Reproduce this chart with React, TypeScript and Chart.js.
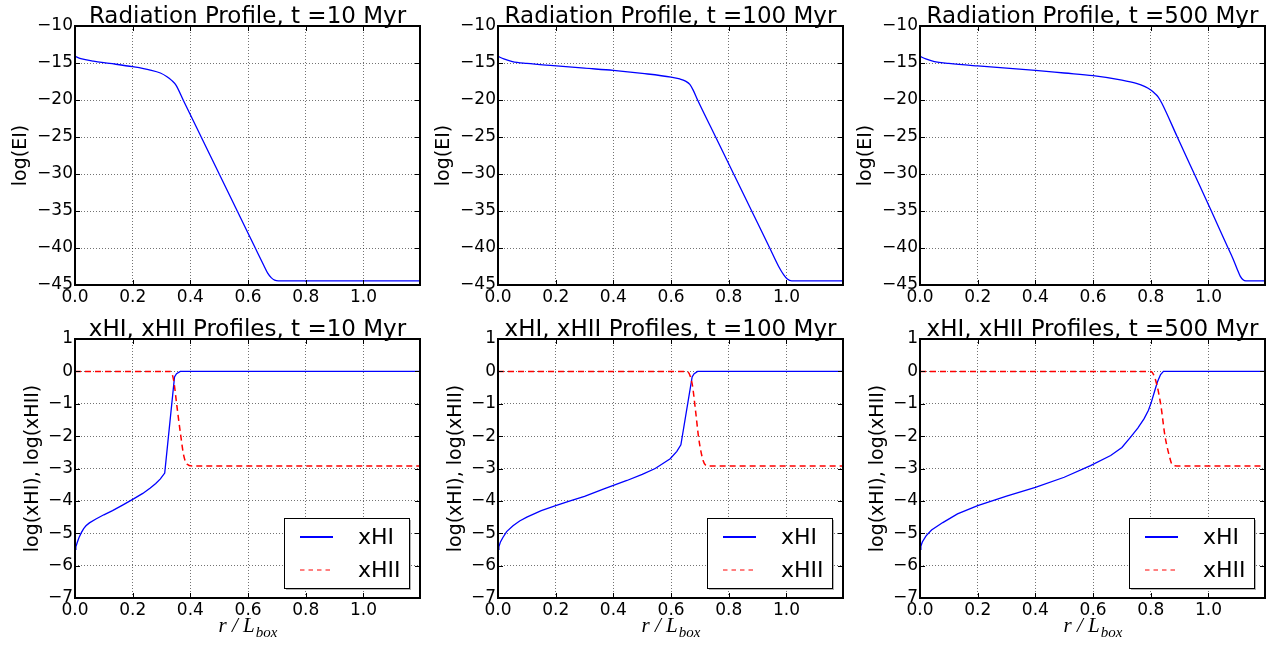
import React, { useEffect, useRef } from 'react';
import { Chart, registerables } from 'chart.js';

Chart.register(...registerables);

const FONT = "'DejaVu Sans', sans-serif";

// ---------- data ----------
const times = ['10', '100', '500'];
const xTickValues = [0, 0.2, 0.4, 0.6, 0.8, 1.0];
const xMax = 1.196;
const eiMin = -45;
const eiMax = -10;
const eiStep = 5;
const xhMin = -7;
const xhMax = 1;
const xhStep = 1;

// Radiation profiles log(EI)
const rEI10 = [0, 0.02, 0.064, 0.12, 0.2, 0.261, 0.296, 0.319, 0.335, 0.35, 0.375, 0.4375, 0.5, 0.5625, 0.625, 0.655, 0.668, 0.68, 0.692, 0.705, 1.196];
const ei10 = [-14.1, -14.4, -14.75, -15.05, -15.5, -15.95, -16.35, -16.85, -17.35, -18, -20, -25, -30, -35, -40, -42.4, -43.4, -44.0, -44.35, -44.45, -44.45];

const rEI100 = [0, 0.02, 0.05, 0.1, 0.192, 0.3, 0.4, 0.5, 0.6, 0.63, 0.65, 0.665, 0.677, 0.692, 0.7545, 0.817, 0.8795, 0.942, 0.973, 0.99, 1.003, 1.018, 1.196];
const ei100 = [-14.1, -14.45, -14.8, -15.05, -15.36, -15.7, -16.0, -16.4, -16.9, -17.15, -17.45, -17.9, -18.7, -20, -25, -30, -35, -40, -42.5, -43.6, -44.2, -44.45, -44.45];

const rEI500 = [0, 0.02, 0.05, 0.1, 0.2, 0.3, 0.4, 0.5, 0.6, 0.7, 0.75, 0.78, 0.8, 0.815, 0.826, 0.838, 0.892, 0.951, 1.01, 1.068, 1.085, 1.1, 1.11, 1.12, 1.13, 1.196];
const ei500 = [-14.1, -14.45, -14.8, -15.05, -15.4, -15.7, -16.0, -16.35, -16.7, -17.3, -17.75, -18.2, -18.65, -19.15, -19.6, -20.4, -25, -30, -35, -40, -41.45, -42.9, -43.8, -44.3, -44.45, -44.45];

// Ionisation profiles log(xHI), log(xHII)
const rHI10 = [0, 0.003, 0.008, 0.014, 0.022, 0.03, 0.038, 0.05, 0.0725, 0.1, 0.13, 0.165, 0.203, 0.235, 0.261, 0.28, 0.296, 0.311, 0.345, 0.352, 0.365, 1.196];
const xHI10 = [-5.5, -5.42, -5.28, -5.13, -4.98, -4.86, -4.77, -4.68, -4.56, -4.43, -4.3, -4.13, -3.94, -3.77, -3.6, -3.46, -3.32, -3.14, -0.17, -0.07, 0, 0];
const rHII10 = [0, 0.331, 0.342, 0.353, 0.365, 0.377, 0.388, 0.406, 1.196];
const xHII10 = [0, 0, -0.28, -1.05, -1.88, -2.6, -2.86, -2.92, -2.92];

const rHI100 = [0, 0.003, 0.008, 0.017, 0.03, 0.052, 0.075, 0.1, 0.15, 0.2, 0.25, 0.3, 0.365, 0.447, 0.5, 0.545, 0.597, 0.62, 0.634, 0.673, 0.68, 0.692, 1.196];
const xHI100 = [-5.5, -5.42, -5.28, -5.13, -4.95, -4.77, -4.62, -4.5, -4.3, -4.15, -4.0, -3.86, -3.64, -3.37, -3.18, -3.0, -2.7, -2.47, -2.27, -0.17, -0.07, 0, 0];
const rHII100 = [0, 0.655, 0.673, 0.684, 0.696, 0.711, 0.725, 1.196];
const xHII100 = [0, 0, -0.38, -1.15, -2.08, -2.75, -2.92, -2.92];

const rHI500 = [0, 0.003, 0.008, 0.021, 0.04, 0.079, 0.13, 0.2, 0.3, 0.4, 0.5, 0.591, 0.661, 0.7, 0.73, 0.755, 0.777, 0.792, 0.802, 0.813, 0.823, 0.834, 0.844, 1.196];
const xHI500 = [-5.5, -5.4, -5.27, -5.08, -4.9, -4.67, -4.4, -4.15, -3.85, -3.58, -3.27, -2.91, -2.6, -2.35, -2.03, -1.75, -1.46, -1.2, -0.95, -0.62, -0.33, -0.1, 0, 0];
const rHII500 = [0, 0.8, 0.817, 0.835, 0.849, 0.864, 0.875, 0.89, 1.196];
const xHII500 = [0, 0, -0.28, -1.05, -1.98, -2.6, -2.89, -2.92, -2.92];

const eiSeries = [
  { r: rEI10, v: ei10 },
  { r: rEI100, v: ei100 },
  { r: rEI500, v: ei500 },
];
const hiSeries = [
  { r: rHI10, v: xHI10 },
  { r: rHI100, v: xHI100 },
  { r: rHI500, v: xHI500 },
];
const hiiSeries = [
  { r: rHII10, v: xHII10 },
  { r: rHII100, v: xHII100 },
  { r: rHII500, v: xHII500 },
];

// ---------- layout ----------
const PLOT_W = 345;
const PLOT_LEFTS = [75, 498, 920];
const LEFT_RESERVE = 72;
const RIGHT_RESERVE = 8;
const ROWS = [
  { canvasTop: 0, canvasH: 320, plotTop: 26, plotBottom: 285 },
  { canvasTop: 312, canvasH: 336, plotTop: 339, plotBottom: 598 },
];

const BLUE = '#0000ff';
const RED = '#ff0000';

function fmtMinus(v: number): string {
  return v < 0 ? '\u2212' + String(Math.abs(v)) : String(v);
}

function toPoints(r: number[], v: number[]) {
  return r.map((x, i) => ({ x, y: v[i] }));
}

type PanelCfg = {
  row: number;
  col: number;
  title: string;
  yLabel: string;
  yLabelOffset: number;
  showXLabel: boolean;
  showLegend: boolean;
};

function makeDecor(cfg: PanelCfg) {
  return {
    id: 'decor' + cfg.row + cfg.col,
    afterDraw(chart: any) {
      const { ctx, chartArea: a, scales } = chart;
      ctx.save();
      // inward ticks
      ctx.strokeStyle = '#000';
      ctx.lineWidth = 1;
      ctx.setLineDash([]);
      ctx.beginPath();
      for (const t of scales.x.ticks) {
        const px = Math.round(scales.x.getPixelForValue(t.value)) + 0.5;
        ctx.moveTo(px, a.bottom);
        ctx.lineTo(px, a.bottom - 5);
        ctx.moveTo(px, a.top);
        ctx.lineTo(px, a.top + 5);
      }
      for (const t of scales.y.ticks) {
        const py = Math.round(scales.y.getPixelForValue(t.value)) + 0.5;
        ctx.moveTo(a.left, py);
        ctx.lineTo(a.left + 5, py);
        ctx.moveTo(a.right, py);
        ctx.lineTo(a.right - 5, py);
      }
      ctx.stroke();
      // frame
      ctx.lineWidth = 2;
      ctx.strokeRect(a.left, a.top, a.right - a.left, a.bottom - a.top);

      // title
      ctx.fillStyle = '#000';
      ctx.font = `23px ${FONT}`;
      ctx.textAlign = 'center';
      ctx.textBaseline = 'alphabetic';
      ctx.fillText(cfg.title, (a.left + a.right) / 2, a.top - 3);

      // y label
      ctx.save();
      ctx.translate(a.left - cfg.yLabelOffset, (a.top + a.bottom) / 2);
      ctx.rotate(-Math.PI / 2);
      ctx.font = `19px ${FONT}`;
      ctx.textAlign = 'center';
      ctx.textBaseline = 'middle';
      ctx.fillText(cfg.yLabel, 0, 0);
      ctx.restore();

      // x label  r/L_box
      if (cfg.showXLabel) {
        const mainFont = `italic 21px 'Liberation Serif', 'DejaVu Serif', serif`;
        const subFont = `italic 15px 'Liberation Serif', 'DejaVu Serif', serif`;
        ctx.font = mainFont;
        const mainTxt = 'r / L';
        const w1 = ctx.measureText(mainTxt).width;
        ctx.font = subFont;
        const w2 = ctx.measureText('box').width;
        const cx = (a.left + a.right) / 2;
        const x0 = cx - (w1 + w2) / 2;
        const baseY = a.bottom + 34;
        ctx.textAlign = 'left';
        ctx.textBaseline = 'alphabetic';
        ctx.font = mainFont;
        ctx.fillText(mainTxt, x0, baseY);
        ctx.font = subFont;
        ctx.fillText('box', x0 + w1 + 1, baseY + 5);
      }

      // legend
      if (cfg.showLegend) {
        const bw = 125;
        const bh = 70;
        const bx = a.right - 11 - bw;
        const by = a.bottom - 10 - bh;
        ctx.fillStyle = 'rgba(0,0,0,0.3)';
        ctx.fillRect(bx + 2, by + 2, bw, bh);
        ctx.fillStyle = '#fff';
        ctx.fillRect(bx, by, bw, bh);
        ctx.strokeStyle = '#000';
        ctx.lineWidth = 1;
        ctx.strokeRect(bx + 0.5, by + 0.5, bw, bh);

        const rows = [
          { label: 'xHI', color: BLUE, dash: [] as number[], width: 2, dy: 19 },
          { label: 'xHII', color: RED, dash: [4.5, 4], width: 1, dy: 52 },
        ];
        for (const r of rows) {
          ctx.strokeStyle = r.color;
          ctx.lineWidth = r.width;
          ctx.setLineDash(r.dash);
          ctx.beginPath();
          ctx.moveTo(bx + 16, by + r.dy);
          ctx.lineTo(bx + 49, by + r.dy);
          ctx.stroke();
          ctx.setLineDash([]);
          ctx.fillStyle = '#000';
          ctx.font = `22px ${FONT}`;
          ctx.textAlign = 'left';
          ctx.textBaseline = 'middle';
          ctx.fillText(r.label, bx + 74, by + r.dy + 1);
        }
      }
      ctx.restore();
    },
  };
}

function Panel({ cfg }: { cfg: PanelCfg }) {
  const ref = useRef<HTMLCanvasElement | null>(null);
  const rowL = ROWS[cfg.row];
  const left = PLOT_LEFTS[cfg.col] - LEFT_RESERVE;
  const width = LEFT_RESERVE + PLOT_W + RIGHT_RESERVE;
  const height = rowL.canvasH;
  const padTop = rowL.plotTop - rowL.canvasTop;
  const xAxisH = rowL.canvasTop + rowL.canvasH - rowL.plotBottom;

  useEffect(() => {
    if (!ref.current) return;
    const isEI = cfg.row === 0;
    const datasets: any[] = [];
    if (isEI) {
      const s = eiSeries[cfg.col];
      datasets.push({
        label: 'EI',
        data: toPoints(s.r, s.v),
        borderColor: BLUE,
        borderWidth: 1.3,
        pointRadius: 0,
        cubicInterpolationMode: 'monotone',
        fill: false,
      });
    } else {
      const hii = hiiSeries[cfg.col];
      const hi = hiSeries[cfg.col];
      datasets.push({
        label: 'xHII',
        data: toPoints(hii.r, hii.v),
        borderColor: RED,
        borderWidth: 1.5,
        borderDash: [6, 4],
        pointRadius: 0,
        cubicInterpolationMode: 'monotone',
        fill: false,
      });
      datasets.push({
        label: 'xHI',
        data: toPoints(hi.r, hi.v),
        borderColor: BLUE,
        borderWidth: 1.3,
        pointRadius: 0,
        tension: 0,
        fill: false,
      });
    }
    const yMin = isEI ? eiMin : xhMin;
    const yMax = isEI ? eiMax : xhMax;
    const yStep = isEI ? eiStep : xhStep;

    const gridCommon = {
      color: 'rgba(0,0,0,0.55)',
      lineWidth: 1,
      drawTicks: false,
    };
    const chart = new Chart(ref.current, {
      type: 'line',
      data: { datasets },
      options: {
        animation: false,
        responsive: false,
        maintainAspectRatio: false,
        devicePixelRatio: 1,
        layout: { padding: { top: padTop, right: RIGHT_RESERVE, left: 0, bottom: 0 } },
        plugins: {
          legend: { display: false },
          title: { display: false },
          tooltip: { enabled: false },
        },
        scales: {
          x: {
            type: 'linear',
            min: 0,
            max: xMax,
            afterBuildTicks: (s: any) => {
              s.ticks = xTickValues.map((v) => ({ value: v }));
            },
            afterFit: (s: any) => {
              s.height = xAxisH;
            },
            grid: gridCommon,
            border: { display: false, dash: [1, 2] },
            ticks: {
              color: '#000',
              font: { family: FONT, size: 17 },
              padding: 2,
              maxRotation: 0,
              autoSkip: false,
              callback: (v: any) => Number(v).toFixed(1),
            },
          },
          y: {
            type: 'linear',
            min: yMin,
            max: yMax,
            ticks: {
              stepSize: yStep,
              color: '#000',
              font: { family: FONT, size: 17 },
              padding: 2,
              autoSkip: false,
              callback: (v: any) => fmtMinus(Number(v)),
            },
            afterFit: (s: any) => {
              s.width = LEFT_RESERVE;
            },
            grid: gridCommon,
            border: { display: false, dash: [1, 2] },
          },
        },
      } as any,
      plugins: [makeDecor(cfg)],
    });
    return () => chart.destroy();
  }, []);

  return (
    <canvas
      ref={ref}
      width={width}
      height={height}
      style={{
        position: 'absolute',
        left,
        top: rowL.canvasTop,
        width,
        height,
      }}
    />
  );
}

export default function App() {
  const cfgs: PanelCfg[] = [];
  for (let col = 0; col < 3; col++) {
    cfgs.push({
      row: 0,
      col,
      title: `Radiation Profile, t =${times[col]} Myr`,
      yLabel: 'log(EI)',
      yLabelOffset: 54,
      showXLabel: false,
      showLegend: false,
    });
  }
  for (let col = 0; col < 3; col++) {
    cfgs.push({
      row: 1,
      col,
      title: `xHI, xHII Profiles, t =${times[col]} Myr`,
      yLabel: 'log(xHI), log(xHII)',
      yLabelOffset: 42,
      showXLabel: true,
      showLegend: true,
    });
  }
  return (
    <div
      style={{
        position: 'absolute',
        left: 0,
        top: 0,
        width: 1276,
        height: 648,
        background: '#fff',
        overflow: 'hidden',
      }}
    >
      {cfgs.map((c) => (
        <Panel key={`${c.row}-${c.col}`} cfg={c} />
      ))}
    </div>
  );
}
